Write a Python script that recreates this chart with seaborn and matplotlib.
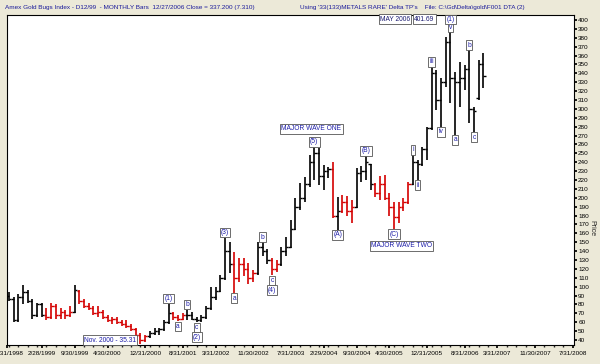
import numpy as np
import pandas as pd
import matplotlib
matplotlib.use("Agg")
import matplotlib.pyplot as plt
import seaborn as sns

# monthly bars, first bar = July 1998, last = December 2006
start = "1998-07"
opens = [90, 86, 62, 88, 94, 84, 68, 80, 68, 66, 78, 68, 72, 68, 72, 95, 84, 78, 76, 70,
         72, 66, 62, 64, 60, 58, 56, 52, 46, 40, 44, 48, 50, 52, 60, 70, 66, 64, 68, 68,
         64, 62, 66, 76, 88, 95, 110, 140, 125, 110, 125, 120, 110, 115, 145, 140, 130, 120, 125, 140,
         145, 165, 190, 200, 215, 240, 250, 225, 230, 232, 180, 185, 195, 185, 190, 228, 230, 238, 215, 205,
         215, 200, 190, 178, 190, 195, 215, 240, 238, 255, 278, 340, 310, 330, 375, 335, 330, 335, 345, 300,
         312, 350]
highs = [94, 88, 92, 102, 96, 86, 82, 82, 76, 82, 80, 76, 74, 78, 102, 96, 86, 82, 78, 78,
         74, 68, 66, 66, 62, 62, 58, 54, 48, 46, 50, 54, 54, 62, 81, 72, 68, 70, 74, 72,
         66, 68, 78, 100, 100, 113, 155, 150, 139, 132, 132, 127, 119, 150, 150, 142, 132, 130, 145, 156,
         175, 200, 217, 223, 248, 257, 256, 237, 235, 240, 201, 203, 202, 197, 234, 236, 247, 238, 217, 225,
         226, 205, 195, 195, 200, 218, 248, 242, 257, 280, 347, 344, 335, 381, 386, 341, 353, 349, 366, 302,
         355, 363]
lows = [84, 60, 60, 80, 82, 64, 66, 66, 62, 64, 64, 64, 64, 66, 70, 80, 76, 74, 68, 66,
        64, 60, 58, 58, 56, 54, 50, 44, 35.31, 38, 42, 46, 46, 50, 58, 62, 61, 62, 62, 62,
        60, 60, 64, 74, 85, 94, 107, 115, 93, 105, 112, 103, 105, 113, 135, 125, 113, 116, 123, 135,
        143, 164, 186, 195, 212, 220, 214, 209, 222, 177, 164, 183, 180, 172, 188, 218, 220, 209, 201, 198,
        197, 180, 165, 172, 185, 193, 214, 220, 236, 242, 276, 299, 280, 325, 307, 271, 302, 321, 284, 274,
        310, 323]
closes = [86, 62, 88, 94, 84, 68, 80, 68, 66, 78, 68, 72, 68, 72, 96, 84, 78, 76, 70, 72,
          66, 62, 64, 60, 58, 56, 52, 46, 40, 44, 48, 50, 52, 60, 70, 66, 64, 68, 68, 64,
          62, 66, 76, 88, 95, 110, 140, 125, 110, 125, 120, 110, 115, 145, 140, 130, 120, 125, 140, 145,
          165, 190, 200, 215, 240, 250, 225, 230, 232, 180, 185, 195, 185, 190, 228, 230, 240, 215, 205, 215,
          200, 190, 178, 190, 195, 215, 240, 238, 255, 278, 340, 310, 330, 375, 335, 330, 335, 345, 300, 298,
          350, 337.2]
# bar colour flags, k = black, r = red
bar_flags = ("k" * 8 + "r" * 6 + "k" + "r" * 15 + "k" * 5 + "r" * 3 + "k" * 10 + "r" * 5 + "k" * 3
             + "r" * 2 + "k" * 11 + "r" + "k" + "r" * 3 + "k" * 4 + "r" * 8 + "k" * 16)

tick_dates = ["12/31/1998", "2/28/1999", "9/30/1999", "4/30/2000", "12/31/2000", "8/31/2001",
              "3/31/2002", "11/30/2002", "7/31/2003", "2/29/2004", "9/30/2004", "4/30/2005",
              "12/31/2005", "8/31/2006", "3/31/2007", "11/30/2007", "7/31/2008"]

# wave labels: text, month, above high ("t"), below low ("b"), stacked second box ("t2"/"b2")
wave_text = ["(1)", "a", "b", "c", "(2)", "(3)", "a", "b", "c", "(4)", "(5)", "(A)", "(B)", "(C)",
             "i", "ii", "iii", "iv", "v", "(1)", "a", "b", "c"]
wave_month = ["2001-05", "2001-07", "2001-09", "2001-11", "2001-11", "2002-05", "2002-07", "2003-01",
              "2003-03", "2003-03", "2003-12", "2004-05", "2004-11", "2005-05",
              "2005-09", "2005-10", "2006-01", "2006-03", "2006-05", "2006-05", "2006-06", "2006-09",
              "2006-10"]
wave_side = ["t", "b", "t", "b", "b2", "t", "b", "t", "b", "b2", "t", "b", "t", "b",
             "t", "b", "t", "b", "t", "t2", "b", "t", "b"]

months = pd.period_range(start, periods=len(opens), freq="M")
x = np.arange(len(opens))
cols = ["#d40000" if c == "r" else "black" for c in bar_flags]


def month_pos(s):
    return (pd.Period(s, freq="M") - months[0]).n


sns.set_theme(style="white")
plt.rcParams["font.family"] = ["Liberation Sans", "DejaVu Sans"]

fig = plt.figure(figsize=(6, 3.64), dpi=100, facecolor="#ECE9D8")
ax = fig.add_axes([7 / 600, 19 / 364, 567 / 600, 330 / 364])
ax.set_facecolor("white")

ax.vlines(x, lows, highs, colors=cols, lw=1.2)
ax.hlines(opens, x - 0.5, x, colors=cols, lw=1.0)
ax.hlines(closes, x, x + 0.5, colors=cols, lw=1.0)

ax.set_xlim(-0.4, 120.3)
ax.set_ylim(34.4, 405.6)

ax.yaxis.tick_right()
ax.set_yticks(np.arange(40, 401, 10))
ax.tick_params(axis="y", labelsize=4.6, length=2, pad=1, colors="black", direction="out", right=True)
ax.set_ylabel("Price", rotation=270, fontsize=5, va="center")
ax.yaxis.set_label_position("right")
ax.yaxis.set_label_coords(1.037, 0.355)

tpos = [month_pos(pd.Timestamp(d).strftime("%Y-%m")) for d in tick_dates]
tpos[0] = -0.35
ax.set_xticks(tpos)
ax.set_xticklabels(tick_dates)
ax.tick_params(axis="x", labelsize=4.6, length=2, pad=2, colors="black", direction="out", bottom=True)
ax.set_xticks(np.arange(0, 121, 2), minor=True)
ax.tick_params(axis="x", which="minor", length=1.2, bottom=True)

for s in ax.spines.values():
    s.set_color("black")
    s.set_linewidth(0.8)

box = dict(boxstyle="square,pad=0.18", fc="white", ec="#555555", lw=0.6)
blue = "#1c1ca8"
for t, m, side in zip(wave_text, wave_month, wave_side):
    i = month_pos(m)
    if side.startswith("t"):
        y0, dy, va = highs[i], (1.2 if side == "t" else 7.0), "bottom"
    else:
        y0, dy, va = lows[i], (-1.2 if side == "b" else -8.2), "top"
    ax.annotate(t, (i, y0), xytext=(0, dy), textcoords="offset points", ha="center", va=va,
                fontsize=4.8, color=blue, bbox=box)

ax.text(64.4, 277.4, "MAJOR WAVE ONE", fontsize=4.8, color=blue, ha="center", va="center", bbox=box)
ax.text(83.6, 145.8, "MAJOR WAVE TWO", fontsize=4.8, color=blue, ha="center", va="center", bbox=box)
ax.text(27.0, 40.0, "Nov. 2000 - 35.31", fontsize=4.8, color=blue, ha="right", va="center", bbox=box)
ax.text(85.4, 401.1, "MAY 2006", fontsize=4.8, color="#1a1a70", ha="right", va="center", bbox=box)
ax.text(86.3, 401.1, "401.69", fontsize=4.8, color="#1a1a70", ha="left", va="center", bbox=box)

fig.text(5 / 600, 357 / 364, "Amex Gold Bugs Index - D12/99  - MONTHLY Bars  12/27/2006 Close = 337.200 (7.310)",
         fontsize=4.6, color="#1a1a9a", va="center")
fig.text(300 / 600, 357 / 364, "Using '33(133)METALS RARE' Delta TP's    File: C:\\Gd\\Delta\\gold\\F001 DTA (2)",
         fontsize=4.6, color="#1a1a9a", va="center")

fig.savefig("out.png", dpi=100, facecolor=fig.get_facecolor())
